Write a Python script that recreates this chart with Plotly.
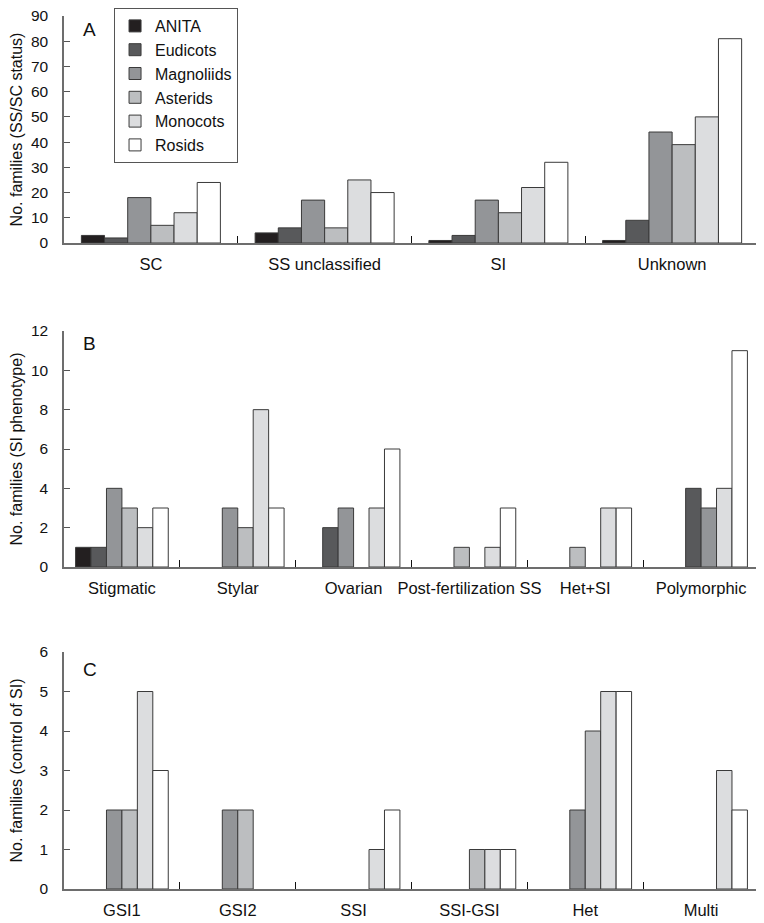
import plotly.graph_objects as go
from plotly.subplots import make_subplots

series = ["ANITA", "Eudicots", "Magnoliids", "Asterids", "Monocots", "Rosids"]

# Panel A: SS/SC status
cat_a = ["SC", "SS unclassified", "SI", "Unknown"]
anita_a = [3, 4, 1, 1]
eudicots_a = [2, 6, 3, 9]
magnoliids_a = [18, 17, 17, 44]
asterids_a = [7, 6, 12, 39]
monocots_a = [12, 25, 22, 50]
rosids_a = [24, 20, 32, 81]

# Panel B: SI phenotype
cat_b = ["Stigmatic", "Stylar", "Ovarian", "Post-fertilization SS", "Het+SI", "Polymorphic"]
anita_b = [1, 0, 0, 0, 0, 0]
eudicots_b = [1, 0, 2, 0, 0, 4]
magnoliids_b = [4, 3, 3, 0, 0, 3]
asterids_b = [3, 2, 0, 1, 1, 0]
monocots_b = [2, 8, 3, 1, 3, 4]
rosids_b = [3, 3, 6, 3, 3, 11]

# Panel C: control of SI
cat_c = ["GSI1", "GSI2", "SSI", "SSI-GSI", "Het", "Multi"]
anita_c = [0, 0, 0, 0, 0, 0]
eudicots_c = [0, 0, 0, 0, 0, 0]
magnoliids_c = [2, 2, 0, 0, 2, 0]
asterids_c = [2, 2, 0, 1, 4, 0]
monocots_c = [5, 0, 1, 1, 5, 3]
rosids_c = [3, 0, 2, 1, 5, 2]

# ---- styling ----
colors = ["#231f20", "#58595b", "#939598", "#bcbec0", "#dcdddf", "#ffffff"]
FONT = "Liberation Sans, Arial, sans-serif"

# slot (position within group) for each series; panel B places some bars in shifted slots
slot_override_b = {("Eudicots", 5): 2, ("Magnoliids", 5): 3,
                   ("Asterids", 3): 2, ("Asterids", 4): 2}

panels = [
    (cat_a, [anita_a, eudicots_a, magnoliids_a, asterids_a, monocots_a, rosids_a], {}),
    (cat_b, [anita_b, eudicots_b, magnoliids_b, asterids_b, monocots_b, rosids_b], slot_override_b),
    (cat_c, [anita_c, eudicots_c, magnoliids_c, asterids_c, monocots_c, rosids_c], {}),
]

fig = make_subplots(rows=3, cols=1)

n_series = len(series)
group_frac = 0.8
bw = group_frac / n_series

for r, (cats, vals_list, overrides) in enumerate(panels, start=1):
    for i, (name, vals) in enumerate(zip(series, vals_list)):
        offs = []
        for j in range(len(cats)):
            s = overrides.get((name, j), i)
            offs.append(-group_frac / 2 + s * bw)
        fig.add_trace(go.Bar(
            x=cats, y=[v if v else None for v in vals], name=name,
            marker=dict(color=colors[i], line=dict(color="#3a3a3a", width=1)),
            width=bw, offset=offs,
            showlegend=(r == 1), legendgroup=name,
        ), row=r, col=1)

# page has an 8px body margin; figure is sized to fit the 764x923 window
W, H = 756, 915
top_px = 0
bot_px = 881
span = bot_px - top_px
def dom(y_top, y_bot):
    return [(bot_px - y_bot) / span, (bot_px - y_top) / span]

fig.update_layout(
    width=W, height=H,
    margin=dict(l=56, r=5, t=top_px, b=H - bot_px, autoexpand=False),
    paper_bgcolor="white", plot_bgcolor="white",
    barmode="overlay",
    font=dict(family=FONT, size=16, color="#111"),
    legend=dict(x=0.072, y=1.0, xanchor="left", yanchor="top",
                bordercolor="#555", borderwidth=1, bgcolor="white",
                font=dict(size=16), itemwidth=30, tracegroupgap=0),
    yaxis=dict(domain=dom(8, 235)),
    yaxis2=dict(domain=dom(323, 559)),
    yaxis3=dict(domain=dom(644, 881)),
)

ranges = [(90, 10, "No. families (SS/SC status)"),
          (12, 2, "No. families (SI phenotype)"),
          (6, 1, "No. families (control of SI)")]
for r, (cats, _, _) in enumerate(panels, start=1):
    ymax, dt, title = ranges[r - 1]
    fig.update_xaxes(row=r, col=1, type="category", range=[-0.5, len(cats) - 0.5],
                     showline=True, linecolor="#6d6d6d", linewidth=1.5,
                     ticks="inside", tickson="boundaries", ticklen=7, tickcolor="#111",
                     tickangle=0, automargin=False, ticklabelstandoff=5,
                     tickfont=dict(size=16.5, color="#111"), showgrid=False, zeroline=False)
    fig.update_yaxes(row=r, col=1, range=[0, ymax], dtick=dt, tick0=0,
                     showline=True, linecolor="#6d6d6d", linewidth=1.5,
                     ticks="inside", ticklen=6, tickcolor="#555",
                     automargin=False, ticklabelstandoff=11, ticklabeloverflow="allow",
                     tickfont=dict(size=15.5, color="#111"), showgrid=False, zeroline=False,
                     title=dict(text=title, font=dict(size=16, color="#111"), standoff=15))

for r, (letter, yfrac) in enumerate([("A", 0.94), ("B", 0.945), ("C", 0.928)], start=1):
    fig.add_annotation(text=letter, xref=f"x{'' if r == 1 else r} domain",
                       yref=f"y{'' if r == 1 else r} domain",
                       x=0.024, y=yfrac, xanchor="left", yanchor="middle",
                       showarrow=False, font=dict(size=19, color="#111"))

fig.write_html("out.html")
